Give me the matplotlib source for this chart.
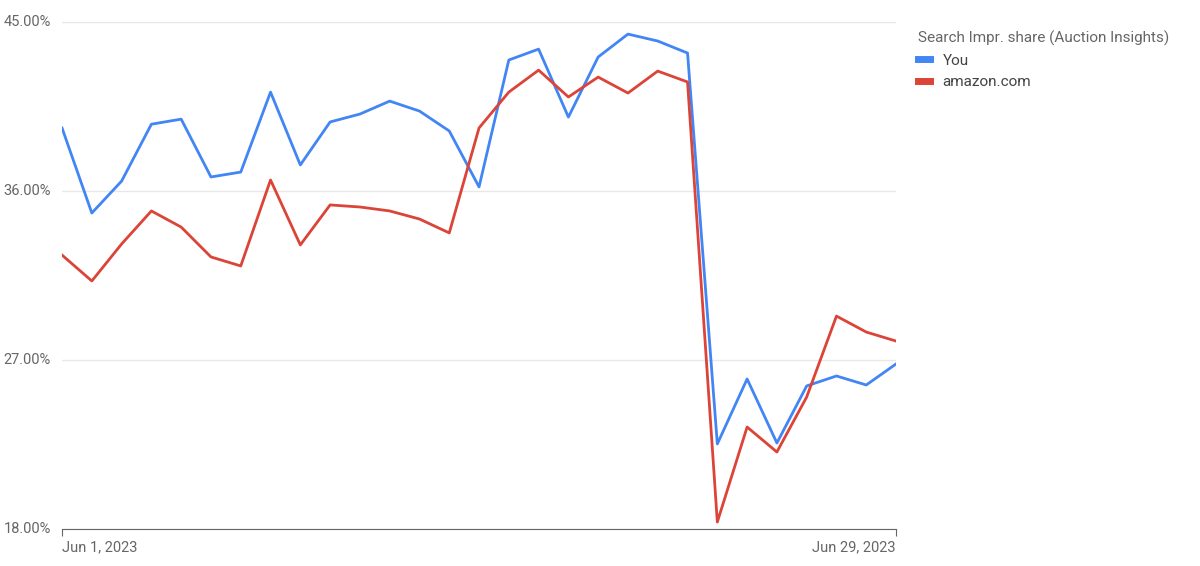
import matplotlib.pyplot as plt
import pandas as pd

plt.rcParams['font.family'] = ['Roboto', 'DejaVu Sans']

dates = pd.date_range('2023-06-01', '2023-06-29')
you = [39.36, 34.83, 36.53, 39.56, 39.83, 36.75, 37.01, 41.27, 37.39, 39.68,
       40.10, 40.79, 40.26, 39.20, 36.22, 42.98, 43.56, 39.94, 43.14, 44.36,
       43.99, 43.35, 22.53, 25.99, 22.58, 25.62, 26.15, 25.67, 26.79]
amazon = [32.59, 31.21, 33.18, 34.94, 34.08, 32.49, 32.01, 36.59, 33.13, 35.26,
          35.15, 34.94, 34.51, 33.77, 39.36, 41.27, 42.44, 41.01, 42.07, 41.22,
          42.39, 41.81, 18.37, 23.43, 22.10, 25.03, 29.34, 28.49, 28.01]
yticks = [18, 27, 36, 45]

fig = plt.figure(figsize=(12, 5.66), dpi=100)
ax = fig.add_axes([0.0517, 0.0654, 0.695, 0.8956])
ax.plot(dates, you, color='#4285f4', lw=2, label='You')
ax.plot(dates, amazon, color='#db4437', lw=2, label='amazon.com')

ax.set_xlim(dates[0], dates[-1])
ax.set_ylim(18, 45)
ax.set_yticks(yticks)
ax.set_yticklabels([])
ax.tick_params(axis='y', length=0)
ax.grid(axis='y', color='#e8e8e8', lw=1)
ax.set_axisbelow(True)
for v in yticks:
    ax.text(-0.07, v, f'{v:.2f}%', transform=ax.get_yaxis_transform(),
            fontsize=10.5, color='#666666', va='center', ha='left')
ax.set_xticks([dates[0], dates[-1]])
labels = ax.set_xticklabels(['Jun 1, 2023', 'Jun 29, 2023'], fontsize=10.5, color='#666666')
labels[0].set_ha('left')
labels[0].set_x(0)
labels[1].set_ha('right')
ax.tick_params(axis='x', length=5, color='#666666')
for s in ['top', 'right', 'left']:
    ax.spines[s].set_visible(False)
ax.spines['bottom'].set_color('#666666')

leg = ax.legend(title='Search Impr. share (Auction Insights)', loc='upper left',
                bbox_to_anchor=(1.01, 1.01), frameon=False, fontsize=11,
                title_fontsize=11, handlelength=0.8, alignment='left')
leg.get_title().set_color('#666666')
for t in leg.get_texts():
    t.set_color('#444444')
for h in leg.get_lines():
    h.set_linewidth(5)

fig.savefig('out.png')
